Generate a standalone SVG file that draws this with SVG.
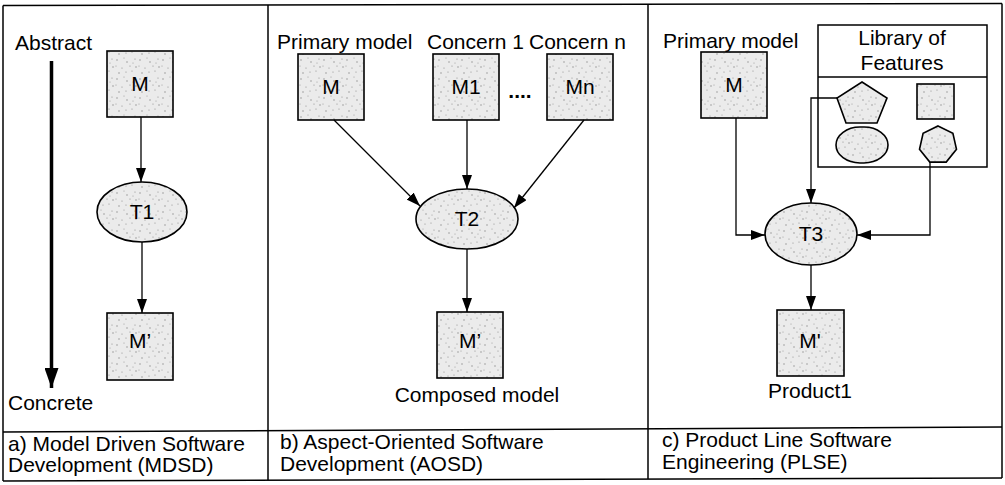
<svg xmlns="http://www.w3.org/2000/svg" width="1005" height="485" viewBox="0 0 1005 485">
  <defs>
    <!-- stippled light-gray fill used by every model / transformation shape -->
    <pattern id="stipple" width="23" height="19" patternUnits="userSpaceOnUse">
      <rect width="23" height="19" fill="#ebebeb"/>
      <g fill="#8c8c8c">
        <circle cx="2" cy="3" r="0.7"/>
        <circle cx="7" cy="11" r="0.6"/>
        <circle cx="12" cy="5" r="0.7"/>
        <circle cx="17" cy="14" r="0.6"/>
        <circle cx="20" cy="2" r="0.6"/>
        <circle cx="4" cy="16" r="0.7"/>
        <circle cx="15" cy="9" r="0.6"/>
        <circle cx="9" cy="1" r="0.5"/>
        <circle cx="21" cy="10" r="0.7"/>
        <circle cx="1" cy="9" r="0.5"/>
        <circle cx="11" cy="15" r="0.6"/>
        <circle cx="18" cy="6" r="0.5"/>
      </g>
    </pattern>
    <marker id="arr" viewBox="0 0 14 10" refX="14" refY="5" markerWidth="14" markerHeight="10" markerUnits="userSpaceOnUse" orient="auto">
      <path d="M0,0 L14,5 L0,10 z" fill="#000"/>
    </marker>
    <marker id="bigarr" viewBox="0 0 20 14" refX="20" refY="7" markerWidth="20" markerHeight="14" markerUnits="userSpaceOnUse" orient="auto">
      <path d="M0,0 L20,7 L0,14 z" fill="#000"/>
    </marker>
  </defs>
  <style>
    text { font-family: "Liberation Sans", Arial, sans-serif; font-size: 21px; fill: #000; }
    .c { text-anchor: middle; }
    .frame { fill: none; stroke: #000; stroke-width: 1.5; }
    .shape { fill: url(#stipple); stroke: #000; stroke-width: 1.6; }
    .plain { fill: none; stroke: #000; stroke-width: 1.5; }
    .conn { fill: none; stroke: #000; stroke-width: 1.3; marker-end: url(#arr); }
  </style>

  <rect width="1005" height="485" fill="#fff"/>

  <!-- table frame -->
  <g id="frame">
    <line class="frame" x1="3" y1="5.5" x2="1002" y2="3.5"/>
    <line class="frame" x1="3" y1="432" x2="1002" y2="427"/>
    <line class="frame" x1="3" y1="481" x2="1002" y2="478"/>
    <line class="frame" x1="3" y1="5.5" x2="3" y2="481"/>
    <line class="frame" x1="268" y1="5" x2="268" y2="480"/>
    <line class="frame" x1="648" y1="4" x2="648" y2="479"/>
    <line class="frame" x1="1002" y1="3.5" x2="1002" y2="478"/>
  </g>

  <!-- captions -->
  <g id="captions">
    <text x="8" y="451">a) Model Driven Software</text>
    <text x="8" y="472">Development (MDSD)</text>
    <text x="280" y="449">b) Aspect-Oriented Software</text>
    <text x="280" y="471">Development (AOSD)</text>
    <text x="662" y="447">c) Product Line Software</text>
    <text x="662" y="469">Engineering (PLSE)</text>
  </g>

  <!-- panel a: abstraction axis -->
  <g id="axis">
    <text x="15" y="50">Abstract</text>
    <line x1="51.5" y1="61" x2="51.5" y2="388" stroke="#000" stroke-width="3.5" marker-end="url(#bigarr)"/>
    <text x="8" y="410">Concrete</text>
  </g>

  <!-- panel a nodes -->
  <g id="a-M">
    <rect class="shape" x="107" y="51" width="66" height="66"/>
    <text class="c" x="140" y="91">M</text>
  </g>
  <g id="a-T1">
    <ellipse class="shape" cx="142" cy="212" rx="45" ry="30"/>
    <text class="c" x="142" y="219">T1</text>
  </g>
  <g id="a-M2">
    <rect class="shape" x="107" y="313" width="66" height="67"/>
    <text class="c" x="140" y="348">M’</text>
  </g>

  <!-- panel b nodes -->
  <g id="b-labels">
    <text x="277" y="49">Primary model</text>
    <text x="427" y="49">Concern 1</text>
    <text x="529" y="49">Concern n</text>
  </g>
  <g id="b-M">
    <rect class="shape" x="298" y="54" width="66" height="66"/>
    <text class="c" x="331" y="94">M</text>
  </g>
  <g id="b-M1">
    <rect class="shape" x="433" y="54" width="66" height="66"/>
    <text class="c" x="466" y="94">M1</text>
  </g>
  <g id="b-dots">
    <text class="c" x="520" y="98" font-weight="bold">....</text>
  </g>
  <g id="b-Mn">
    <rect class="shape" x="547" y="54" width="66" height="66"/>
    <text class="c" x="580" y="94">Mn</text>
  </g>
  <g id="b-T2">
    <ellipse class="shape" cx="467" cy="219" rx="51" ry="30"/>
    <text class="c" x="467" y="226">T2</text>
  </g>
  <g id="b-M2">
    <rect class="shape" x="437" y="312" width="66" height="66"/>
    <text class="c" x="470" y="348">M’</text>
    <text class="c" x="477" y="402">Composed model</text>
  </g>

  <!-- panel c nodes -->
  <g id="c-label">
    <text x="663" y="48">Primary model</text>
  </g>
  <g id="c-M">
    <rect class="shape" x="701" y="52" width="66" height="66"/>
    <text class="c" x="734" y="92">M</text>
  </g>
  <g id="c-library">
    <rect class="plain" x="818" y="25" width="169" height="142"/>
    <line class="plain" x1="818" y1="77" x2="987" y2="77"/>
    <text class="c" x="902" y="45">Library of</text>
    <text class="c" x="902" y="70">Features</text>
    <polygon class="shape" points="862,82 887,98 877,123 846,123 837,98"/>
    <rect class="shape" x="917" y="84" width="37" height="35"/>
    <rect class="shape" x="836" y="127" width="52" height="36" rx="24" ry="18"/>
    <polygon class="shape" points="938,126 952.9,133.2 956.5,149.2 946.2,162.1 929.8,162.1 919.5,149.2 923.1,133.2"/>
  </g>
  <g id="c-T3">
    <ellipse class="shape" cx="811" cy="234" rx="46" ry="31"/>
    <text class="c" x="811" y="241">T3</text>
  </g>
  <g id="c-M2">
    <rect class="shape" x="777" y="310" width="67" height="66"/>
    <text class="c" x="810" y="348">M'</text>
    <text class="c" x="810" y="398">Product1</text>
  </g>

  <!-- connectors -->
  <g id="connectors">
    <line class="conn" x1="141" y1="117" x2="141" y2="182"/>
    <line class="conn" x1="142" y1="242" x2="142" y2="313"/>

    <line class="conn" x1="334" y1="120" x2="420" y2="206"/>
    <line class="conn" x1="467" y1="120" x2="467" y2="189"/>
    <line class="conn" x1="584" y1="120" x2="514" y2="208"/>
    <line class="conn" x1="467" y1="249" x2="467" y2="312"/>

    <polyline class="conn" points="837,98 811,98 811,203"/>
    <polyline class="conn" points="736,118 736,235 765,235"/>
    <polyline class="conn" points="930,162 930,235 857,235"/>
    <line class="conn" x1="811" y1="265" x2="811" y2="310"/>
  </g>
</svg>
